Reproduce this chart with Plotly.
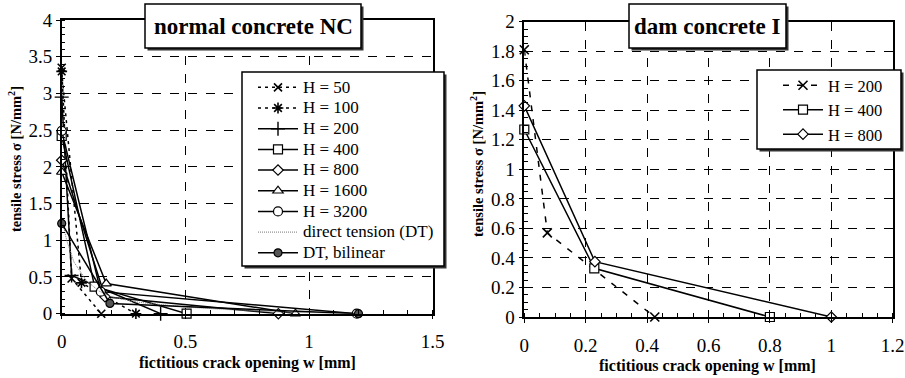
import plotly.graph_objects as go

W, H = 905, 378
def px(x):
    return x / W
def py(y):
    return 1 - y / H

FONT = "Liberation Serif"

# ---------------- data: normal concrete NC (left) ----------------
nc_names = ["H = 50", "H = 100", "H = 200", "H = 400", "H = 800", "H = 1600", "H = 3200"]
nc_w_50 = [0, 0.04, 0.16]
nc_s_50 = [3.35, 0.48, 0]
nc_w_100 = [0, 0.08, 0.30]
nc_s_100 = [3.30, 0.42, 0]
nc_w_200 = [0, 0.04, 0.40]
nc_s_200 = [2.95, 0.52, 0]
nc_w_400 = [0, 0.133, 0.505]
nc_s_400 = [2.42, 0.37, 0]
nc_w_800 = [0, 0.175, 0.876]
nc_s_800 = [2.09, 0.23, 0]
nc_w_1600 = [0, 0.18, 0.945]
nc_s_1600 = [1.93, 0.41, 0]
nc_w_3200 = [0, 0.158, 1.193]
nc_s_3200 = [2.49, 0.30, 0]
dt_w = [0, 0.02, 0.05, 0.10, 0.15, 0.20, 0.30, 0.50, 0.70, 0.90, 1.20]
dt_s = [1.30, 1.00, 0.70, 0.45, 0.31, 0.23, 0.16, 0.09, 0.05, 0.02, 0.0]
dtb_w = [0, 0.195, 1.20]
dtb_s = [1.23, 0.14, 0]

# ---------------- data: dam concrete I (right) ----------------
dam_names = ["H = 200", "H = 400", "H = 800"]
dam_w_200 = [0, 0.075, 0.425]
dam_s_200 = [1.81, 0.57, 0]
dam_w_400 = [0, 0.228, 0.80]
dam_s_400 = [1.27, 0.33, 0]
dam_w_800 = [0, 0.23, 1.00]
dam_s_800 = [1.43, 0.375, 0]

# tick values
nc_xticks = [0, 0.5, 1, 1.5]
nc_xlabels = ["0", "0.5", "1", "1.5"]
nc_yticks = [0, 0.5, 1, 1.5, 2, 2.5, 3, 3.5, 4]
nc_ylabels = ["0", "0.5", "1", "1.5", "2", "2.5", "3", "3.5", "4"]
dam_xticks = [0, 0.2, 0.4, 0.6, 0.8, 1, 1.2]
dam_xlabels = ["0", "0.2", "0.4", "0.6", "0.8", "1", "1.2"]
dam_yticks = [0, 0.2, 0.4, 0.6, 0.8, 1, 1.2, 1.4, 1.6, 1.8, 2]
dam_ylabels = ["0", "0.2", "0.4", "0.6", "0.8", "1", "1.2", "1.4", "1.6", "1.8", "2"]

fig = go.Figure()

def big(t):
    return "<span style='font-size:17px'>" + t + "</span>"

def add(xs, ys, name, symbol, size, fill, dash, width, xa, ya, leg, lcolor="black", mline=1.2, bigtext=True):
    mk = dict(symbol=symbol, size=size, color=fill, line=dict(color="black", width=mline))
    fig.add_trace(go.Scatter(
        x=xs, y=ys, name=big(name) if bigtext else name, mode="lines+markers" if symbol else "lines",
        line=dict(color=lcolor, width=width, dash=dash),
        marker=mk if symbol else None,
        xaxis=xa, yaxis=ya, legend=leg, cliponaxis=False))

# left traces
add(nc_w_50, nc_s_50, nc_names[0], "x-thin", 8, "black", "3px,4px", 1.5, "x", "y", "legend", mline=1.6)
add(nc_w_100, nc_s_100, nc_names[1], "asterisk", 9, "black", "3px,4px", 1.5, "x", "y", "legend", mline=1.6)
add(nc_w_200, nc_s_200, nc_names[2], "cross-thin", 10, "black", "solid", 1.5, "x", "y", "legend", mline=1.4)
add(nc_w_400, nc_s_400, nc_names[3], "square", 9, "white", "solid", 1.5, "x", "y", "legend")
add(nc_w_800, nc_s_800, nc_names[4], "diamond", 8, "white", "solid", 1.5, "x", "y", "legend")
add(nc_w_1600, nc_s_1600, nc_names[5], "triangle-up", 9, "white", "solid", 1.5, "x", "y", "legend")
add(nc_w_3200, nc_s_3200, nc_names[6], "circle", 9, "white", "solid", 1.5, "x", "y", "legend")
add(dt_w, dt_s, "direct tension (DT)", None, 0, None, "1px,1px", 1, "x", "y", "legend", lcolor="#777")
add(dtb_w, dtb_s, "DT, bilinear", "circle", 8, "#555", "solid", 1.5, "x", "y", "legend")

# right traces
add(dam_w_200, dam_s_200, dam_names[0], "x-thin", 9, "black", "6px,8px", 1.5, "x2", "y2", "legend2", mline=1.6, bigtext=False)
add(dam_w_400, dam_s_400, dam_names[1], "square", 9, "white", "solid", 1.5, "x2", "y2", "legend2", bigtext=False)
add(dam_w_800, dam_s_800, dam_names[2], "diamond", 8, "white", "solid", 1.5, "x2", "y2", "legend2", bigtext=False)

axis_common = dict(
    showline=True, linecolor="black", linewidth=1.5, mirror=True,
    showgrid=True, gridcolor="black", gridwidth=1, griddash="dash",
    zeroline=False, ticks="outside", ticklen=4, tickcolor="black", tickwidth=1,
    tickfont=dict(family=FONT, size=19, color="black"),
    tickmode="array", automargin=False,
)

fig.update_layout(
    width=W, height=H, margin=dict(l=0, r=0, t=0, b=0, autoexpand=False),
    paper_bgcolor="white", plot_bgcolor="white",
    font=dict(family=FONT, color="black"),
    xaxis=dict(axis_common, domain=[px(61.7), px(432.7)], range=[0, 1.5], anchor="y",
               tickvals=nc_xticks, ticktext=nc_xlabels, ticklabelstandoff=6,
               minor=dict(tickvals=[i / 10 for i in range(16)], ticks="inside", ticklen=4, tickcolor="black", showgrid=False)),
    yaxis=dict(axis_common, domain=[py(313.7), py(20)], range=[0, 4], anchor="x",
               tickvals=nc_yticks, ticktext=nc_ylabels,
               minor=dict(tickvals=[i / 10 for i in range(41)], ticks="inside", ticklen=4, tickcolor="black", showgrid=False)),
    xaxis2=dict(axis_common, domain=[px(524.3), px(892.7)], range=[0, 1.2], anchor="y2",
                tickvals=dam_xticks, ticktext=dam_xlabels, ticklabelstandoff=6,
                minor=dict(tickvals=[i / 20 for i in range(25)], ticks="inside", ticklen=4, tickcolor="black", showgrid=False)),
    yaxis2=dict(axis_common, domain=[py(317), py(21.7)], range=[0, 2], anchor="x2",
                tickvals=dam_yticks, ticktext=dam_ylabels,
                minor=dict(tickvals=[i / 20 for i in range(41)], ticks="inside", ticklen=4, tickcolor="black", showgrid=False)),
    legend=dict(x=px(253), y=py(72), xanchor="left", yanchor="top", bgcolor="rgba(0,0,0,0)",
                font=dict(family=FONT, size=13.6, color="black"), itemwidth=40, tracegroupgap=0),
    legend2=dict(x=px(778), y=py(68), xanchor="left", yanchor="top", bgcolor="rgba(0,0,0,0)",
                 font=dict(family=FONT, size=16.5, color="black"), itemwidth=40, tracegroupgap=0),
    showlegend=True,
)

# boxes (title boxes and legend boxes) with shadow
def box(x0, y0, x1, y1, off=2.5):
    fig.add_shape(type="rect", xref="paper", yref="paper",
                  x0=px(x0 + off), x1=px(x1 + off), y0=py(y1 + off), y1=py(y0 + off),
                  fillcolor="#333", line=dict(width=0), layer="above")
    fig.add_shape(type="rect", xref="paper", yref="paper",
                  x0=px(x0), x1=px(x1), y0=py(y1), y1=py(y0),
                  fillcolor="white", line=dict(color="black", width=1.5), layer="above")

box(145, 4, 361, 48)
box(629, 4, 786, 48)
box(242, 72, 444, 266)
box(757, 70, 901, 149)

ann = []
ann.append(dict(text="<b>normal concrete NC</b>", x=px(253), y=py(27), font=dict(size=23)))
ann.append(dict(text="<b>dam concrete I</b>", x=px(707.5), y=py(27), font=dict(size=23)))
ann.append(dict(text="<b>fictitious crack opening w [mm]</b>", x=px(247.5), y=py(363), font=dict(size=16)))
ann.append(dict(text="<b>fictitious crack opening w [mm]</b>", x=px(707.5), y=py(366), font=dict(size=16)))
ann.append(dict(text="<b>tensile stress σ [N/mm<sup>2</sup>]</b>", x=px(15), y=py(159), textangle=-90, font=dict(size=14.5)))
ann.append(dict(text="<b>tensile stress σ [N/mm<sup>2</sup>]</b>", x=px(477), y=py(164), textangle=-90, font=dict(size=14.5)))
for a in ann:
    a.update(xref="paper", yref="paper", showarrow=False, xanchor="center", yanchor="middle")
    a["font"].update(family=FONT, color="black")
fig.update_layout(annotations=ann)

fig.write_html("out.html")
